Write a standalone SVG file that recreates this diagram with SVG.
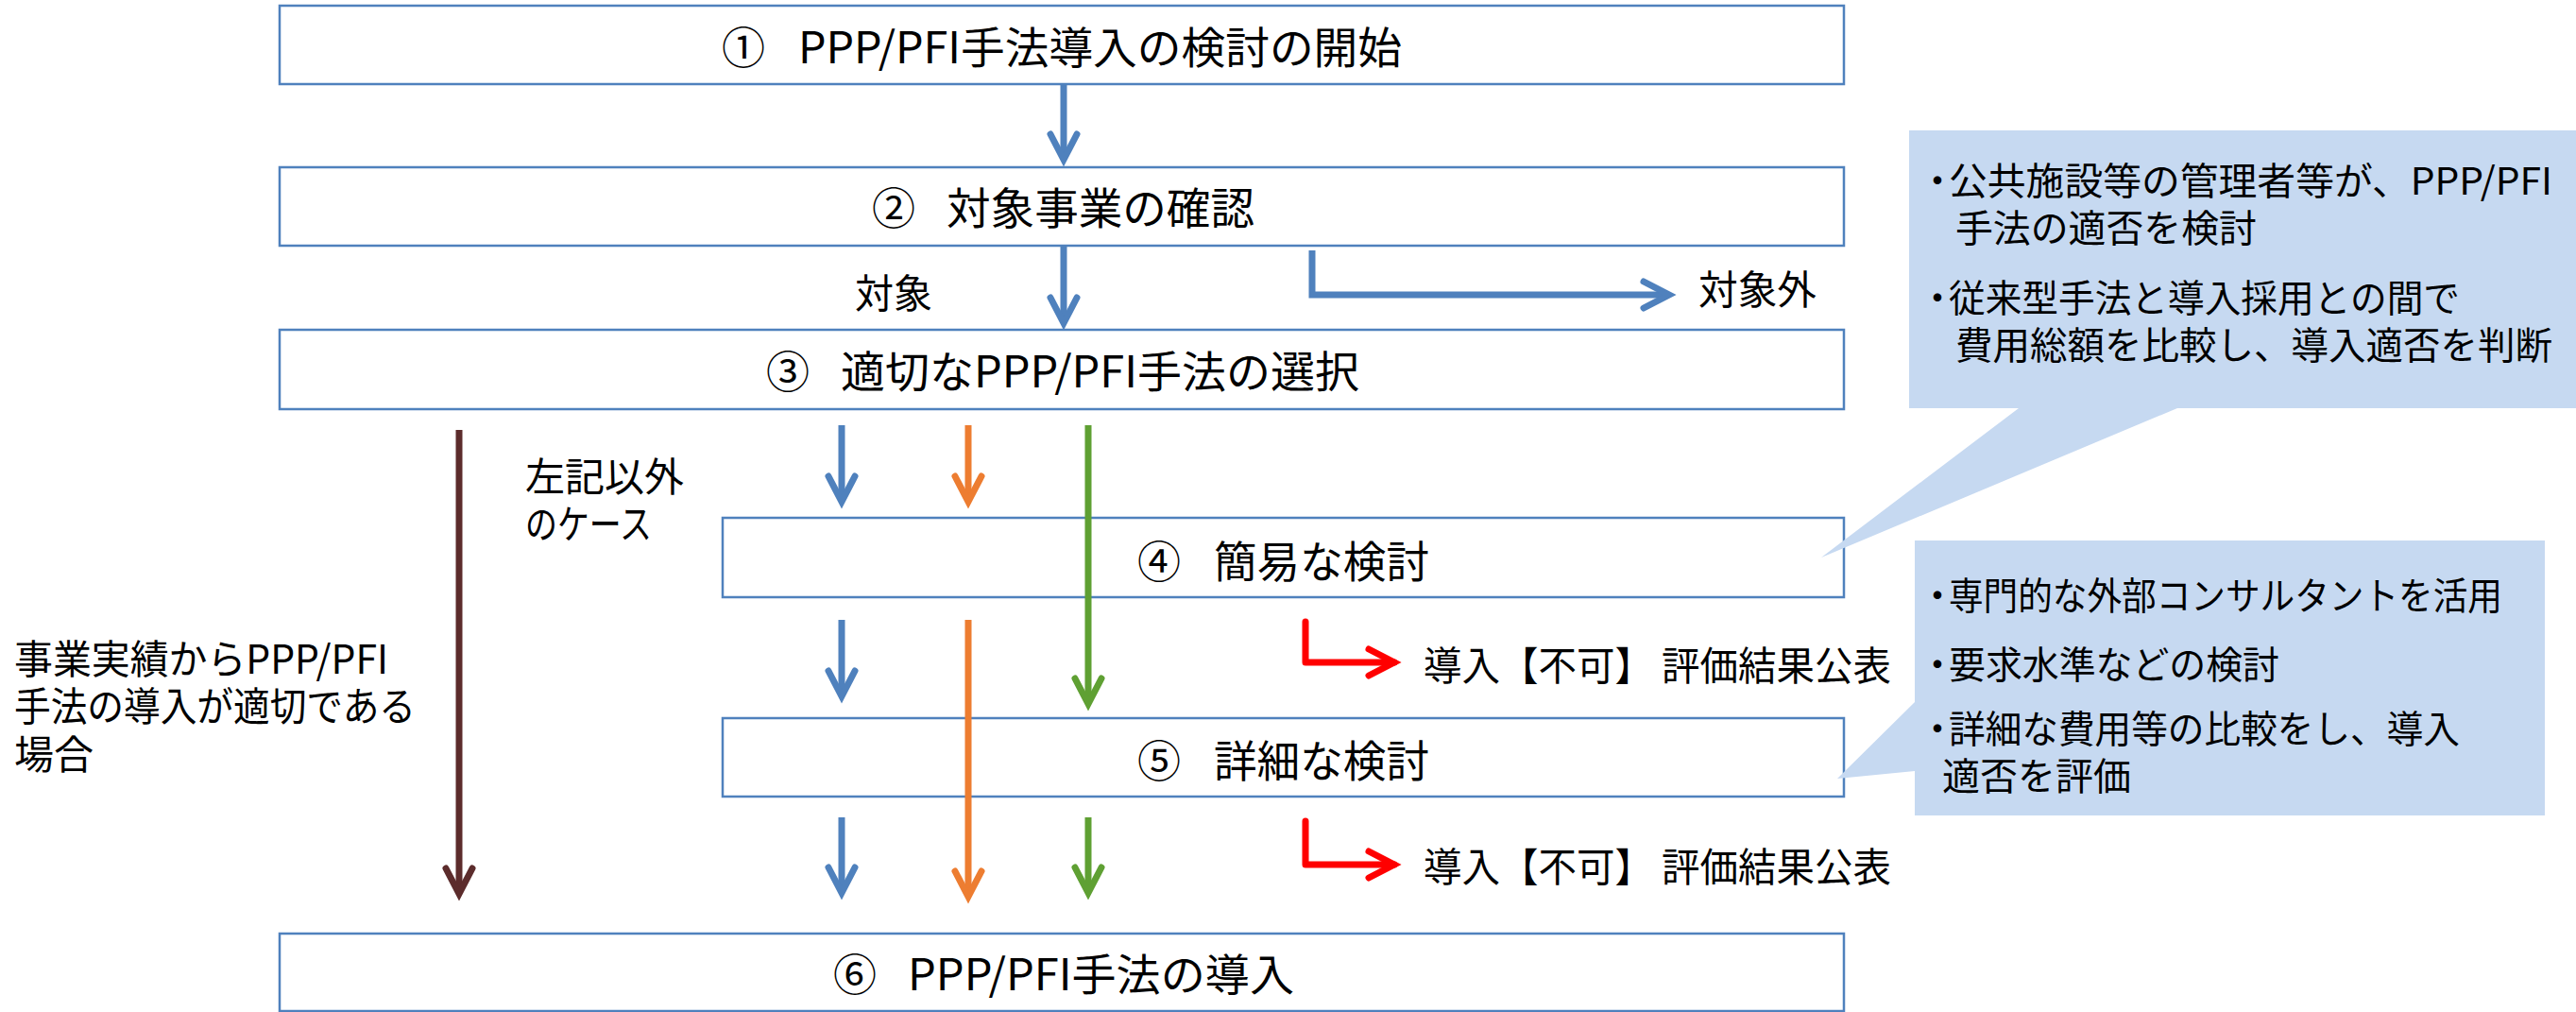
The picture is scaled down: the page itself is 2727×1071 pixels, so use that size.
<svg xmlns="http://www.w3.org/2000/svg" width="2727" height="1071" viewBox="0 0 2727 1071">
<style>
.box{fill:#fff;stroke:#4F81BD;stroke-width:2.5}
.t{font-family:"Noto Sans CJK JP","Noto Sans",sans-serif;fill:#000}
.bt{font-size:46px}
.lt{font-size:42px}
.ct{font-size:40px}
.bul{letter-spacing:-21px}
.callout{fill:#C6D9F1}
.ln{fill:none;stroke-width:7;stroke-linecap:butt;stroke-linejoin:miter}
.blue{stroke:#4F81BD}
.orange{stroke:#ED7D31}
.green{stroke:#5FA033}
.brown{stroke:#5C2C2C}
.red{stroke:#FF0000;stroke-linecap:round;stroke-linejoin:round}
.hd{fill:none;stroke-width:7;stroke-linecap:round;stroke-linejoin:miter}
</style>
<defs>
<marker id="mB" markerUnits="userSpaceOnUse" orient="auto" markerWidth="1" markerHeight="1" refX="0" refY="0" overflow="visible"><path class="hd" stroke="#4F81BD" d="M-27,-14 L0,0 L-27,14"/></marker>
<marker id="mO" markerUnits="userSpaceOnUse" orient="auto" markerWidth="1" markerHeight="1" refX="0" refY="0" overflow="visible"><path class="hd" stroke="#ED7D31" d="M-27,-14 L0,0 L-27,14"/></marker>
<marker id="mG" markerUnits="userSpaceOnUse" orient="auto" markerWidth="1" markerHeight="1" refX="0" refY="0" overflow="visible"><path class="hd" stroke="#5FA033" d="M-27,-14 L0,0 L-27,14"/></marker>
<marker id="mBr" markerUnits="userSpaceOnUse" orient="auto" markerWidth="1" markerHeight="1" refX="0" refY="0" overflow="visible"><path class="hd" stroke="#5C2C2C" d="M-27,-14 L0,0 L-27,14"/></marker>
<marker id="mR" markerUnits="userSpaceOnUse" orient="auto" markerWidth="1" markerHeight="1" refX="0" refY="0" overflow="visible"><path class="hd" stroke="#FF0000" d="M-27,-14 L0,0 L-27,14"/></marker>
</defs>
<rect width="2727" height="1071" fill="#fff"/>

<g id="node1"><rect class="box" x="296" y="6" width="1656" height="83"/>
<text class="t bt" y="67"><tspan x="764">① </tspan><tspan x="845" textLength="639" lengthAdjust="spacingAndGlyphs">PPP/PFI手法導入の検討の開始</tspan></text></g>
<g id="node2"><rect class="box" x="296" y="177" width="1656" height="83"/>
<text class="t bt" y="237"><tspan x="923">② </tspan><tspan x="1002" textLength="326" lengthAdjust="spacingAndGlyphs">対象事業の確認</tspan></text></g>
<g id="node3"><rect class="box" x="296" y="349" width="1656" height="84"/>
<text class="t bt" y="410"><tspan x="811">③ </tspan><tspan x="890" textLength="549" lengthAdjust="spacingAndGlyphs">適切なPPP/PFI手法の選択</tspan></text></g>
<g id="node4"><rect class="box" x="765" y="548" width="1187" height="84"/>
<text class="t bt" y="611"><tspan x="1204">④ </tspan><tspan x="1285" textLength="228" lengthAdjust="spacingAndGlyphs">簡易な検討</tspan></text></g>
<g id="node5"><rect class="box" x="765" y="760" width="1187" height="83"/>
<text class="t bt" y="822"><tspan x="1204">⑤ </tspan><tspan x="1285" textLength="228" lengthAdjust="spacingAndGlyphs">詳細な検討</tspan></text></g>
<g id="node6"><rect class="box" x="296" y="988" width="1656" height="82"/>
<text class="t bt" y="1048"><tspan x="882">⑥ </tspan><tspan x="961" textLength="409" lengthAdjust="spacingAndGlyphs">PPP/PFI手法の導入</tspan></text></g>

<g id="connectors">
<path class="ln blue" d="M1126,89 V169" marker-end="url(#mB)"/>
<path class="ln blue" d="M1126,260 V342" marker-end="url(#mB)"/>
<path class="ln blue" d="M1389,265 V312 H1767" marker-end="url(#mB)"/>
<path class="ln blue" d="M891,450 V531" marker-end="url(#mB)"/>
<path class="ln orange" d="M1025,450 V531" marker-end="url(#mO)"/>
<path class="ln green" d="M1152,450 V745" marker-end="url(#mG)"/>
<path class="ln blue" d="M891,656 V737" marker-end="url(#mB)"/>
<path class="ln orange" d="M1025,656 V949" marker-end="url(#mO)"/>
<path class="ln blue" d="M891,865 V945" marker-end="url(#mB)"/>
<path class="ln green" d="M1152,865 V945" marker-end="url(#mG)"/>
<path class="ln brown" d="M486,455 V946" marker-end="url(#mBr)"/>
<path class="ln red" d="M1382,658 V701 H1476" marker-end="url(#mR)"/>
<path class="ln red" d="M1382,869 V915 H1476" marker-end="url(#mR)"/>
</g>

<g id="labels">
<text class="t lt" x="905" y="326" textLength="82" lengthAdjust="spacingAndGlyphs">対象</text>
<text class="t lt" x="1798" y="322" textLength="125" lengthAdjust="spacingAndGlyphs">対象外</text>
<text class="t lt" x="556" y="520" textLength="168" lengthAdjust="spacingAndGlyphs">左記以外</text>
<text class="t lt" x="556" y="570" textLength="134" lengthAdjust="spacingAndGlyphs">のケース</text>
<text class="t lt" x="15" y="713" textLength="396" lengthAdjust="spacingAndGlyphs">事業実績からPPP/PFI</text>
<text class="t lt" x="15" y="763" textLength="425" lengthAdjust="spacingAndGlyphs">手法の導入が適切である</text>
<text class="t lt" x="15" y="814" textLength="84" lengthAdjust="spacingAndGlyphs">場合</text>
<text class="t lt" x="1507" y="720" textLength="495" lengthAdjust="spacingAndGlyphs">導入【不可】 評価結果公表</text>
<text class="t lt" x="1507" y="933" textLength="495" lengthAdjust="spacingAndGlyphs">導入【不可】 評価結果公表</text>
</g>

<g id="callout1">
<path class="callout" d="M2021,138 H2727 V432 H2305 L1928,590 L2137,432 H2021 Z"/>
<text class="t ct" y="206"><tspan class="bul" x="2031">・</tspan><tspan x="2063" textLength="639" lengthAdjust="spacingAndGlyphs">公共施設等の管理者等が、PPP/PFI</tspan></text>
<text class="t ct" x="2070" y="256" textLength="319" lengthAdjust="spacingAndGlyphs">手法の適否を検討</text>
<text class="t ct" y="330"><tspan class="bul" x="2031">・</tspan><tspan x="2063" textLength="541" lengthAdjust="spacingAndGlyphs">従来型手法と導入採用との間で</tspan></text>
<text class="t ct" x="2070" y="380" textLength="632" lengthAdjust="spacingAndGlyphs">費用総額を比較し、導入適否を判断</text>
</g>

<g id="callout2">
<path class="callout" d="M2027,572 H2694 V863 H2027 V816 L1945,824 L2027,743 Z"/>
<text class="t ct" y="645"><tspan class="bul" x="2031">・</tspan><tspan x="2063" textLength="586" lengthAdjust="spacingAndGlyphs">専門的な外部コンサルタントを活用</tspan></text>
<text class="t ct" y="718"><tspan class="bul" x="2031">・</tspan><tspan x="2063" textLength="350" lengthAdjust="spacingAndGlyphs">要求水準などの検討</tspan></text>
<text class="t ct" y="786"><tspan class="bul" x="2031">・</tspan><tspan x="2063" textLength="541" lengthAdjust="spacingAndGlyphs">詳細な費用等の比較をし、導入</tspan></text>
<text class="t ct" x="2056" y="836" textLength="200" lengthAdjust="spacingAndGlyphs">適否を評価</text>
</g>
</svg>
